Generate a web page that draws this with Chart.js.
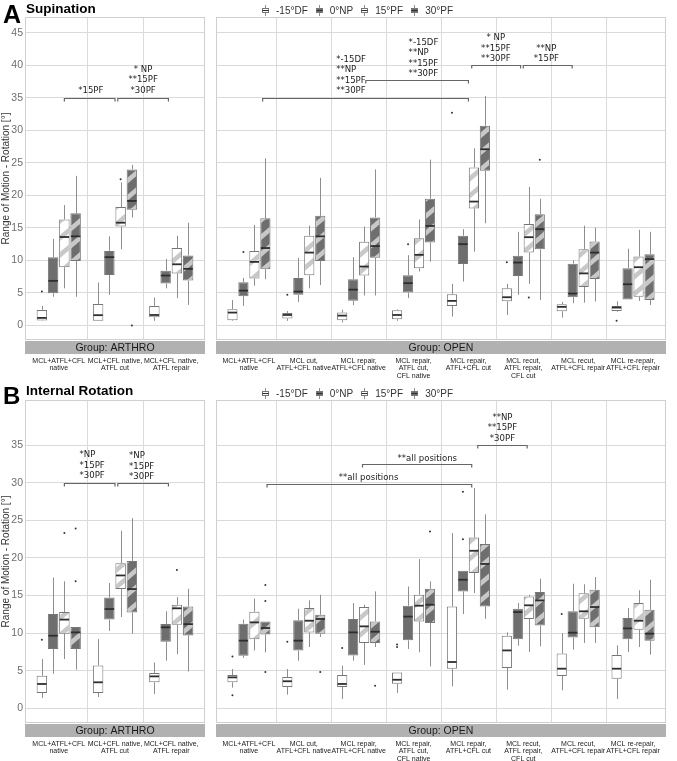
<!DOCTYPE html>
<html>
<head>
<meta charset="utf-8">
<script src="https://cdn.jsdelivr.net/npm/chart.js@4/dist/chart.umd.min.js"></script>
<style>
  body { margin: 0; background: #fff; font-family: 'Liberation Sans', Arial, sans-serif; }
  #wrap { position: relative; width: 677px; height: 761px; overflow: hidden; }
  #wrap canvas.facet { position: absolute; left: 0; }
  .tag { position: absolute; font-weight: bold; color: #000; line-height: 1; white-space: nowrap; }
  .legend { position: absolute; left: 262px; display: flex; align-items: center; font-size: 10px; color: #333; line-height: 1; z-index: 2; }
  .legend canvas { margin-right: 7px; }
  .legend span { margin-right: 8px; }
</style>
</head>
<body>
<div id="wrap">
  <canvas class="facet" id="supArthro" width="677" height="380" style="top:0"></canvas>
  <canvas class="facet" id="supOpen" width="677" height="380" style="top:0"></canvas>
  <canvas class="facet" id="irArthro" width="677" height="381" style="top:380px"></canvas>
  <canvas class="facet" id="irOpen" width="677" height="381" style="top:380px"></canvas>
  <div class="tag" style="left:3px;top:2px;font-size:25px">A</div>
  <div class="tag" style="left:26px;top:2px;font-size:13.5px">Supination</div>
  <div class="tag" style="left:3px;top:384px;font-size:24px">B</div>
  <div class="tag" style="left:26px;top:384px;font-size:13.5px">Internal Rotation</div>
  <div class="legend" id="legA" style="top:5px"></div>
  <div class="legend" id="legB" style="top:388px"></div>
</div>
<script>
// series and categories
const series = ['-15°DF', '0°NP', '15°PF', '30°PF'];
const arthroLabels = [
  ['MCL+ATFL+CFL', 'native'],
  ['MCL+CFL native,', 'ATFL cut'],
  ['MCL+CFL native,', 'ATFL repair']
];
const openLabels = [
  ['MCL+ATFL+CFL', 'native'],
  ['MCL cut,', 'ATFL+CFL native'],
  ['MCL repair,', 'ATFL+CFL native'],
  ['MCL repair,', 'ATFL cut,', 'CFL native'],
  ['MCL repair,', 'ATFL+CFL cut'],
  ['MCL recut,', 'ATFL repair,', 'CFL cut'],
  ['MCL recut,', 'ATFL+CFL repair'],
  ['MCL re-repair,', 'ATFL+CFL repair']
];
const supTicks = [0, 5, 10, 15, 20, 25, 30, 35, 40, 45];
const irTicks = [0, 5, 10, 15, 20, 25, 30, 35];

// boxes: [lower whisker, q1, median, q3, upper whisker]
const supArthroDF = [[0.7, 0.74, 1.15, 2.38, 3.0], [0.7, 0.7, 1.57, 3.3, 6.6], [0.7, 1.26, 1.6, 3.0, 4.3]];
const supArthroNP = [[4.4, 4.95, 6.85, 10.5, 13.3], [4.7, 7.77, 10.5, 11.46, 13.7], [5.7, 6.45, 7.67, 8.4, 10.2]];
const supArthro15 = [[5.7, 8.95, 13.6, 16.3, 18.5], [11.7, 15.2, 15.8, 18.2, 22.0], [4.2, 8.0, 9.4, 11.9, 13.8]];
const supArthro30 = [[4.4, 9.9, 13.7, 17.25, 23.0], [16.6, 17.8, 19.15, 24.0, 24.7], [3.15, 6.9, 8.7, 10.75, 15.8]];
// outliers: [category index, value]
const supArthroOut = [[[0, 5.2]], [], [[1, 22.5]], [[1, 0.0]]];

const supOpenDF = [[0.7, 0.8, 1.97, 2.5, 3.9], [0.7, 1.05, 1.6, 1.92, 2.2], [0.45, 0.8, 1.5, 1.97, 2.4], [0.7, 0.95, 1.6, 2.33, 2.45],
  [1.35, 3.0, 3.77, 4.8, 6.4], [1.6, 3.7, 4.33, 5.7, 6.4], [1.2, 2.18, 2.85, 3.26, 3.6], [2.1, 2.23, 2.74, 3.0, 3.7]];
const supOpenNP = [[3.0, 4.5, 5.35, 6.65, 7.3], [3.6, 4.7, 5.2, 7.3, 10.4], [3.1, 3.8, 5.5, 7.1, 10.5], [4.2, 5.05, 6.5, 7.7, 10.8],
  [6.75, 9.46, 12.5, 13.8, 14.8], [4.7, 7.6, 9.67, 10.7, 14.4], [3.4, 4.33, 4.9, 9.5, 10.0], [4.0, 4.0, 6.33, 8.8, 11.8]];
const supOpen15 = [[6.1, 7.2, 9.77, 11.46, 15.46], [5.7, 7.7, 11.2, 13.8, 15.35], [4.6, 7.67, 9.05, 12.85, 15.2], [8.3, 8.8, 10.85, 13.4, 16.3],
  [11.35, 18.0, 19.05, 24.3, 27.25], [6.4, 11.2, 13.57, 15.6, 21.3], [3.5, 5.9, 8.0, 11.7, 15.35], [3.77, 4.4, 8.95, 10.6, 14.7]];
const supOpen30 = [[7.1, 8.65, 11.9, 16.5, 25.7], [6.2, 9.9, 13.7, 16.85, 22.7], [4.6, 10.4, 12.2, 16.6, 24.0], [9.8, 12.75, 15.3, 19.5, 25.5],
  [15.7, 23.8, 27.1, 30.7, 35.3], [3.9, 11.7, 14.8, 17.1, 19.5], [3.67, 7.15, 11.2, 12.9, 15.05], [3.15, 3.9, 10.2, 10.95, 14.4]];
const supOpenOut = [[[1, 4.7], [4, 32.7], [5, 9.7], [7, 0.7]], [[0, 11.3], [3, 12.5]], [[5, 4.3]], [[5, 25.5]]];

const irArthroDF = [[1.38, 2.04, 3.24, 4.34, 6.56], [1.5, 2.04, 3.46, 5.7, 9.2], [1.9, 3.46, 4.25, 4.7, 6.1]];
const irArthroNP = [[4.6, 7.89, 9.66, 12.54, 17.4], [10.3, 11.8, 13.2, 14.75, 16.66], [6.34, 8.86, 10.77, 11.2, 12.9]];
const irArthro15 = [[6.56, 9.93, 11.8, 12.8, 16.9], [12.14, 15.86, 17.67, 19.3, 23.6], [7.2, 11.12, 13.3, 13.78, 14.8]];
const irArthro30 = [[5.14, 7.9, 10.1, 10.8, 10.8], [9.9, 12.76, 15.86, 19.6, 25.3], [4.9, 9.7, 11.2, 13.55, 15.9]];
const irArthroOut = [[[0, 9.13]], [], [[0, 23.3], [2, 18.4]], [[0, 23.9], [0, 16.9]]];

const irOpenDF = [[2.75, 3.46, 4.12, 4.43, 5.23], [1.82, 2.84, 3.6, 4.17, 5.23], [1.25, 2.84, 3.24, 4.43, 5.67], [2.04, 3.28, 3.8, 4.78, 4.78],
  [2.92, 5.27, 6.16, 13.55, 23.3], [2.48, 5.37, 7.7, 9.66, 10.1], [2.4, 4.3, 5.27, 7.3, 10.0], [1.25, 3.95, 5.27, 7.1, 8.37]];
const irOpenNP = [[6.7, 7.0, 9.0, 11.25, 11.8], [6.34, 7.7, 9.0, 11.7, 13.25], [6.34, 7.04, 10.1, 11.88, 14.0], [7.9, 9.04, 12.2, 13.65, 16.2],
  [12.54, 15.55, 17.1, 18.3, 18.3], [8.33, 9.2, 12.8, 13.25, 14.0], [7.8, 9.43, 10.06, 12.9, 16.57], [7.5, 9.2, 10.63, 12.0, 13.34]];
const irOpen15 = [[7.7, 9.2, 11.43, 12.85, 14.6], [8.15, 10.1, 11.65, 13.34, 14.35], [5.77, 8.69, 10.9, 13.47, 13.78], [7.44, 11.56, 13.65, 15.1, 19.85],
  [15.33, 18.0, 20.95, 22.7, 29.3], [7.5, 11.88, 13.7, 14.88, 15.1], [8.7, 11.9, 12.9, 15.3, 16.5], [8.15, 10.46, 11.65, 14.0, 15.7]];
const irOpen30 = [[7.44, 9.83, 10.68, 11.56, 11.56], [9.5, 9.93, 11.88, 12.45, 15.1], [8.15, 8.69, 10.19, 11.56, 15.55], [5.58, 11.35, 13.78, 15.9, 16.88],
  [11.9, 13.55, 19.2, 21.85, 25.8], [8.24, 11.0, 14.35, 15.47, 17.23], [8.7, 10.77, 13.47, 15.77, 17.46], [7.14, 9.0, 9.93, 13.1, 17.1]];
const irOpenOut = [[[0, 6.9], [0, 1.73], [1, 8.86], [2, 8.02], [3, 8.5], [3, 8.15], [6, 12.54]], [[4, 28.8], [4, 22.5]], [],
  [[0, 16.4], [0, 14.27], [0, 4.84], [1, 4.84], [2, 3.0], [3, 23.5]]];

// significance brackets (x in category units, y in degrees)
const supArthroNotes = [
  { x1: 0.1, x2: 1.0, y: 35, tx: 0.57, ty: 36.2, align: 'center', lines: ['*15PF'] },
  { x1: 1.05, x2: 1.95, y: 35, tx: 1.5, ty: 36.2, align: 'center', lines: ['* NP', '**15PF', '*30PF'] }
];
const supOpenNotes = [
  { x1: 0.25, x2: 4.0, y: 35, tx: 1.59, ty: 36.07, align: 'left', lines: ['*-15DF', '**NP', '**15PF', '**30PF'] },
  { x1: 2.13, x2: 4.0, y: 37.8, tx: 2.91, ty: 38.7, align: 'left', lines: ['*-15DF', '**NP', '**15PF', '**30PF'] },
  { x1: 4.06, x2: 4.95, y: 40.1, tx: 4.5, ty: 41.0, align: 'center', lines: ['* NP', '**15PF', '**30PF'] },
  { x1: 5.0, x2: 5.89, y: 40.1, tx: 5.42, ty: 41.0, align: 'center', lines: ['**NP', '*15PF'] }
];
const irArthroNotes = [
  { x1: 0.1, x2: 1.0, y: 30, tx: 0.37, ty: 30.9, align: 'left', lines: ['*NP', '*15PF', '*30PF'] },
  { x1: 1.05, x2: 1.95, y: 30, tx: 1.25, ty: 30.8, align: 'left', lines: ['*NP', '*15PF', '*30PF'] }
];
const irOpenNotes = [
  { x1: 0.33, x2: 4.06, y: 29.85, tx: 2.18, ty: 30.7, align: 'center', lines: ['**all positions'] },
  { x1: 2.07, x2: 4.06, y: 32.5, tx: 3.25, ty: 33.2, align: 'center', lines: ['**all positions'] },
  { x1: 4.17, x2: 5.07, y: 35.0, tx: 4.62, ty: 35.9, align: 'center', lines: ['**NP', '**15PF', '*30PF'] }
];

const NP_FILL = '#6e6e6e';
const BAND = '#c8c8c8';
const BOX_LINE = '#767676';
const WHISKER = '#8e8e8e';
const MEDIAN = '#2e2e2e';
const GRID = '#dadada';

Chart.defaults.font.family = "'Liberation Sans', Arial, sans-serif";

function stripes(ctx, base, band) {
  const W = 20, H = 17;
  const tile = document.createElement('canvas');
  tile.width = W; tile.height = H;
  const g = tile.getContext('2d');
  g.fillStyle = base;
  g.fillRect(0, 0, W, H);
  g.strokeStyle = band;
  g.lineWidth = 4.6;
  for (const d of [-H, 0, H]) {
    g.beginPath();
    g.moveTo(-W, 2 * H + d);
    g.lineTo(2 * W, d - H);
    g.stroke();
  }
  return ctx.createPattern(tile, 'repeat');
}

function fills(ctx) {
  return ['#ffffff', NP_FILL, stripes(ctx, '#ffffff', BAND), stripes(ctx, NP_FILL, BAND)];
}

function line(ctx, x1, y1, x2, y2) {
  ctx.beginPath();
  ctx.moveTo(x1, y1);
  ctx.lineTo(x2, y2);
  ctx.stroke();
}

function decor(o) {
  const n = o.labels.length;
  return {
    id: 'decor',
    beforeDatasetsDraw(chart) {
      const { ctx, chartArea: a, scales: { x } } = chart;
      ctx.save();
      ctx.strokeStyle = GRID;
      ctx.lineWidth = 1;
      for (let i = 0; i < n - 1; i++) {
        const px = Math.round(x.getPixelForValue(i + 0.5)) + 0.5;
        line(ctx, px, a.top, px, a.bottom);
      }
      ctx.restore();
    },
    afterDatasetsDraw(chart) {
      const { ctx, scales: { y } } = chart;
      ctx.save();
      chart.data.datasets.forEach((ds, i) => {
        const meta = chart.getDatasetMeta(i);
        meta.data.forEach((bar, j) => {
          const s = ds.stats[j];
          const cx = Math.round(bar.x) + 0.5;
          ctx.strokeStyle = WHISKER;
          ctx.lineWidth = 1;
          line(ctx, cx, y.getPixelForValue(s[0]), cx, y.getPixelForValue(s[1]));
          line(ctx, cx, y.getPixelForValue(s[3]), cx, y.getPixelForValue(s[4]));
          ctx.strokeStyle = MEDIAN;
          ctx.lineWidth = 1.8;
          const my = y.getPixelForValue(s[2]);
          line(ctx, bar.x - bar.width / 2 + 0.5, my, bar.x + bar.width / 2 - 0.5, my);
        });
        ctx.fillStyle = '#333';
        ds.outliers.forEach(([j, v]) => {
          const bar = meta.data[j];
          ctx.beginPath();
          ctx.arc(bar.x, y.getPixelForValue(v), 1, 0, Math.PI * 2);
          ctx.fill();
        });
      });
      ctx.restore();
    },
    afterDraw(chart) {
      const { ctx, chartArea: a, scales: { x, y } } = chart;
      ctx.save();
      ctx.strokeStyle = '#cfcfcf';
      ctx.lineWidth = 1;
      ctx.strokeRect(a.left + 0.5, a.top + 0.5, a.right - a.left - 1, a.bottom - a.top - 1);
      // facet strip
      ctx.fillStyle = '#b1b1b1';
      ctx.fillRect(a.left, a.bottom + 1, a.right - a.left, 13);
      ctx.fillStyle = '#1a1a1a';
      ctx.font = "10.5px 'Liberation Sans', Arial, sans-serif";
      ctx.textAlign = 'center';
      ctx.textBaseline = 'middle';
      ctx.fillText(o.strip, (a.left + a.right) / 2, a.bottom + 8);
      // significance brackets
      ctx.strokeStyle = '#666';
      ctx.lineWidth = 1.2;
      ctx.font = "9.5px 'Liberation Sans Narrow', 'DejaVu Sans Condensed', sans-serif";
      ctx.fillStyle = '#222';
      o.notes.forEach(nt => {
        const x1 = x.getPixelForValue(nt.x1), x2 = x.getPixelForValue(nt.x2);
        const yy = Math.round(y.getPixelForValue(nt.y)) + 0.5;
        ctx.beginPath();
        ctx.moveTo(x1, yy + 3);
        ctx.lineTo(x1, yy);
        ctx.lineTo(x2, yy);
        ctx.lineTo(x2, yy + 3);
        ctx.stroke();
        const tx = x.getPixelForValue(nt.tx), ty = y.getPixelForValue(nt.ty);
        ctx.textAlign = nt.align;
        nt.lines.forEach((t, k) => ctx.fillText(t, tx, ty - (nt.lines.length - 1 - k) * 10.5));
      });
      ctx.restore();
    }
  };
}

function makeFacet(o) {
  const el = document.getElementById(o.id);
  const f = fills(el.getContext('2d'));
  const n = o.labels.length;
  const datasets = o.stats.map((s, k) => ({
    label: series[k],
    data: s.map((b, i) => ({ x: i, y: [b[1], b[3]] })),
    stats: s,
    outliers: o.outliers[k],
    backgroundColor: f[k],
    borderColor: BOX_LINE,
    borderWidth: 1,
    borderSkipped: false,
    categoryPercentage: 0.8,
    barPercentage: 0.93
  }));
  return new Chart(el, {
    type: 'bar',
    data: { datasets },
    options: {
      responsive: false,
      animation: false,
      events: [],
      layout: { padding: { left: o.left ? 0 : 216, right: o.left ? 472 : 1, top: o.top, bottom: 0 } },
      plugins: { legend: { display: false }, tooltip: { enabled: false } },
      scales: {
        x: {
          type: 'linear',
          min: -0.6,
          max: n - 0.4,
          offset: false,
          bounds: 'data',
          afterBuildTicks: ax => { ax.ticks = o.labels.map((_, i) => ({ value: i })); },
          afterFit: ax => { ax.height = o.axisH; },
          grid: { display: false, offset: false, drawTicks: false },
          border: { display: false },
          ticks: {
            autoSkip: false, maxRotation: 0, minRotation: 0, padding: 17, color: '#1a1a1a',
            font: { size: 7, lineHeight: 1.1 },
            callback: v => o.labels[v]
          }
        },
        y: {
          min: o.yMin,
          max: o.yMax,
          bounds: 'data',
          afterBuildTicks: ax => { ax.ticks = o.yTicks.map(v => ({ value: v })); },
          afterFit: ax => { ax.width = o.left ? 25 : 0; },
          grid: { color: GRID, drawTicks: false },
          border: { display: false },
          ticks: { display: o.left, padding: 2, color: '#6e6e6e', font: { size: 10.5 } },
          title: {
            display: o.left, text: 'Range of Motion - Rotation [°]', color: '#333',
            font: { size: 10 }, padding: { top: 0, bottom: 0 }
          }
        }
      }
    },
    plugins: [decor(o)]
  });
}

makeFacet({ id: 'supArthro', left: true, labels: arthroLabels, stats: [supArthroDF, supArthroNP, supArthro15, supArthro30],
  outliers: supArthroOut, notes: supArthroNotes, strip: 'Group: ARTHRO', yMin: -2.25, yMax: 47.45, yTicks: supTicks, top: 17, axisH: 40 });
makeFacet({ id: 'supOpen', left: false, labels: openLabels, stats: [supOpenDF, supOpenNP, supOpen15, supOpen30],
  outliers: supOpenOut, notes: supOpenNotes, strip: 'Group: OPEN', yMin: -2.25, yMax: 47.45, yTicks: supTicks, top: 17, axisH: 40 });
makeFacet({ id: 'irArthro', left: true, labels: arthroLabels, stats: [irArthroDF, irArthroNP, irArthro15, irArthro30],
  outliers: irArthroOut, notes: irArthroNotes, strip: 'Group: ARTHRO', yMin: -1.95, yMax: 41.0, yTicks: irTicks, top: 20, axisH: 38 });
makeFacet({ id: 'irOpen', left: false, labels: openLabels, stats: [irOpenDF, irOpenNP, irOpen15, irOpen30],
  outliers: irOpenOut, notes: irOpenNotes, strip: 'Group: OPEN', yMin: -1.95, yMax: 41.0, yTicks: irTicks, top: 20, axisH: 38 });

// legend with small box glyphs
function buildLegend(id) {
  const box = document.getElementById(id);
  series.forEach((name, k) => {
    const c = document.createElement('canvas');
    c.width = 7; c.height = 11;
    const g = c.getContext('2d');
    const f = fills(g);
    g.strokeStyle = WHISKER;
    g.lineWidth = 1;
    line(g, 3.5, 0, 3.5, 11);
    g.fillStyle = f[k];
    g.fillRect(0, 3, 7, 5);
    g.strokeStyle = BOX_LINE;
    g.strokeRect(0.5, 3.5, 6, 4);
    g.strokeStyle = MEDIAN;
    line(g, 0.5, 5.5, 6.5, 5.5);
    box.appendChild(c);
    const s = document.createElement('span');
    s.textContent = name;
    box.appendChild(s);
  });
}
buildLegend('legA');
buildLegend('legB');
</script>
</body>
</html>
